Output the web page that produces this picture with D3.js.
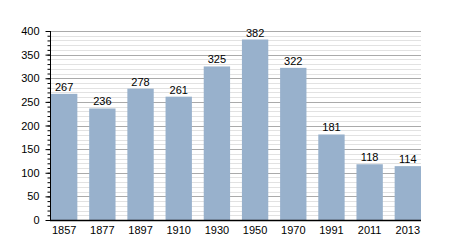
<!DOCTYPE html>
<html>
<head>
<meta charset="utf-8">
<script src="https://cdn.jsdelivr.net/npm/d3@7"></script>
<style>
  body { margin: 0; background: #fff; }
  text { font-family: "Liberation Sans", Arial, sans-serif; font-size: 11px; fill: #000; }
</style>
</head>
<body>
<div id="chart"></div>
<script>
// Datos
const years = ['1857', '1877', '1897', '1910', '1930', '1950', '1970', '1991', '2011', '2013']
const population = [267, 236, 278, 261, 325, 382, 322, 181, 118, 114]
const yTicks = [0, 50, 100, 150, 200, 250, 300, 350, 400]

const width = 450
const height = 250
const marginLeft = 50
const plotRight = 421
const plotTop = 31
const plotBottom = 220

const svg = d3.select('#chart')
  .append('svg')
  .attr('width', width)
  .attr('height', height)

const y = d3.scaleLinear()
  .domain([0, 400])
  .range([plotBottom, plotTop])

const x = d3.scaleBand()
  .domain(years)
  .range([marginLeft + 1, plotRight])
  .paddingInner(0.31)
  .paddingOuter(0)

// lineas de fondo, cada 10 finas y cada 50 mas oscuras
const minor = d3.range(10, 400, 10).filter(v => v % 50 != 0)
svg.append('g').selectAll('line')
  .data(minor)
  .enter()
  .append('line')
  .attr('x1', marginLeft).attr('x2', plotRight)
  .attr('y1', d => Math.round(y(d)) + 0.5)
  .attr('y2', d => Math.round(y(d)) + 0.5)
  .attr('stroke', '#e2e2e2')

svg.append('g').selectAll('line')
  .data(yTicks.slice(1))
  .enter()
  .append('line')
  .attr('x1', marginLeft).attr('x2', plotRight)
  .attr('y1', d => Math.round(y(d)) + 0.5)
  .attr('y2', d => Math.round(y(d)) + 0.5)
  .attr('stroke', '#aaaaaa')

// barras
svg.append('g').selectAll('rect')
  .data(population)
  .enter()
  .append('rect')
  .attr('x', (d, i) => x(years[i]))
  .attr('y', d => y(d))
  .attr('width', x.bandwidth())
  .attr('height', d => plotBottom - y(d))
  .attr('fill', '#98b1cc')

// etiquetas de valor
svg.append('g').selectAll('text')
  .data(population)
  .enter()
  .append('text')
  .attr('x', (d, i) => x(years[i]) + x.bandwidth() / 2)
  .attr('y', d => y(d) - 3)
  .attr('text-anchor', 'middle')
  .text(d => d)

// eje y con ticks menores
const axisYMinor = d3.axisLeft(y).tickValues(d3.range(0, 401, 10)).tickSize(3).tickFormat('')
svg.append('g')
  .attr('transform', `translate(${marginLeft + 0.5}, 0)`)
  .call(axisYMinor)
  .call(g => g.select('.domain').remove())

const axisY = d3.axisLeft(y).tickValues(yTicks).tickSize(5).tickPadding(6)
svg.append('g')
  .attr('transform', `translate(${marginLeft + 0.5}, 0)`)
  .call(axisY)
  .call(g => g.selectAll('text').style('font-size', '11px').style('font-family', '"Liberation Sans", Arial, sans-serif'))
  .call(g => g.select('.domain').attr('d', `M0,${plotTop}V${plotBottom}`))

// eje x
const axisX = d3.axisBottom(x).tickSize(0).tickPadding(6)
svg.append('g')
  .attr('transform', `translate(0, ${plotBottom + 0.5})`)
  .call(axisX)
  .call(g => g.selectAll('text').style('font-size', '11px').style('font-family', '"Liberation Sans", Arial, sans-serif'))
  .call(g => g.select('.domain').attr('d', `M${marginLeft},0H${plotRight}`).attr('stroke-width', 1.5))
</script>
</body>
</html>
